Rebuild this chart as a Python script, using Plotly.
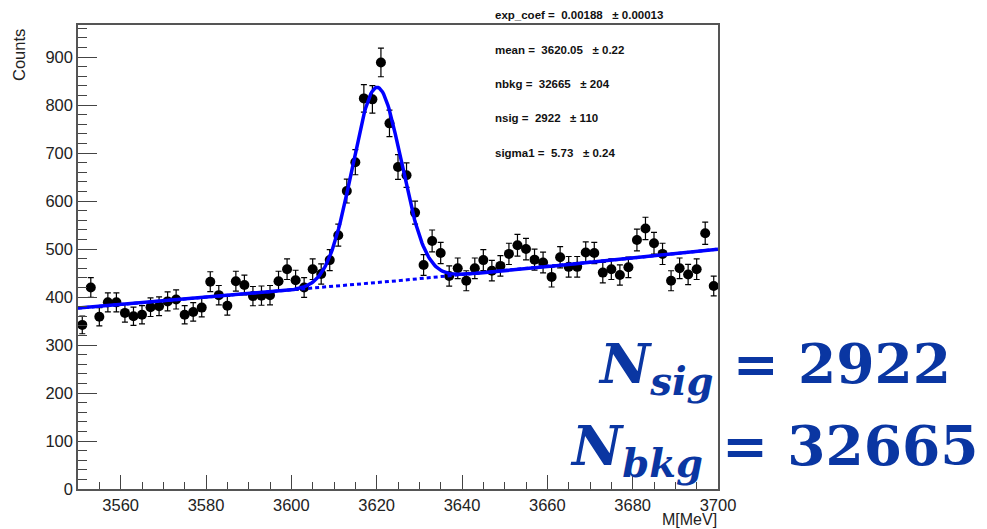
import numpy as np
import plotly.graph_objects as go

# ---- data ----
bin_centers = [3551, 3553, 3555, 3557, 3559, 3561, 3563, 3565, 3567, 3569,
               3571, 3573, 3575, 3577, 3579, 3581, 3583, 3585, 3587, 3589,
               3591, 3593, 3595, 3597, 3599, 3601, 3603, 3605, 3607, 3609,
               3611, 3613, 3615, 3617, 3619, 3621, 3623, 3625, 3627, 3629,
               3631, 3633, 3635, 3637, 3639, 3641, 3643, 3645, 3647, 3649,
               3651, 3653, 3655, 3657, 3659, 3661, 3663, 3665, 3667, 3669,
               3671, 3673, 3675, 3677, 3679, 3681, 3683, 3685, 3687, 3689,
               3691, 3693, 3695, 3697, 3699]
counts = [342, 420, 359, 389, 389, 367, 360, 363, 379, 381,
          391, 395, 363, 369, 378, 432, 404, 382, 433, 425,
          402, 403, 404, 433, 458, 435, 420, 458, 448, 477,
          529, 621, 681, 814, 812, 889, 762, 671, 654, 576,
          467, 517, 492, 444, 460, 434, 460, 477, 455, 465,
          490, 508, 500, 478, 472, 442, 483, 463, 463, 493,
          492, 451, 458, 446, 462, 519, 543, 512, 490, 434,
          460, 447, 458, 533, 423]
count_errors = [float(np.sqrt(c)) for c in counts]

# fit parameters (shown on the chart)
par_names = ["exp_coef", "mean", "nbkg", "nsig", "sigma1"]
par_values = ["0.00188", "3620.05", "32665", "2922", "5.73"]
par_errors = ["0.00013", "0.22", "204", "110", "0.24"]
exp_coef = 0.00188
mean = 3620.05
nbkg = 32665
nsig = 2922
sigma1 = 5.73
x_lo, x_hi, bin_w = 3550, 3700, 2

x_tick_vals = [3560, 3580, 3600, 3620, 3640, 3660, 3680, 3700]
y_tick_vals = [0, 100, 200, 300, 400, 500, 600, 700, 800, 900]

# ---- fit model curves (from the fit parameters) ----
xf = np.linspace(x_lo, x_hi, 600)
bkg_norm = exp_coef / (np.exp(exp_coef * x_hi) - np.exp(exp_coef * x_lo))
bkg = nbkg * bin_w * bkg_norm * np.exp(exp_coef * xf)
sig = nsig * bin_w * np.exp(-0.5 * ((xf - mean) / sigma1) ** 2) / (np.sqrt(2 * np.pi) * sigma1)
total = bkg + sig

fig = go.Figure()
fig.add_trace(go.Scatter(
    x=bin_centers, y=counts, mode="markers",
    marker=dict(color="black", size=10, symbol="circle"),
    error_y=dict(type="data", array=count_errors, color="black", thickness=1.2, width=3),
    showlegend=False, hoverinfo="skip"))
fig.add_trace(go.Scatter(
    x=xf, y=bkg, mode="lines",
    line=dict(color="#0000ff", width=3, dash="4px,3px"),
    showlegend=False, hoverinfo="skip"))
fig.add_trace(go.Scatter(
    x=xf, y=total, mode="lines",
    line=dict(color="#0000ff", width=3.5),
    showlegend=False, hoverinfo="skip"))

W, H = 987, 529
L, R, T, B = 78, 269, 25, 40
pw, ph = W - L - R, H - T - B

def px(xp):
    return (xp - L) / pw

def py(yp):
    return (H - B - yp) / ph

axis_font = dict(family="Liberation Sans, Arial, sans-serif", size=16.5, color="#222")

fig.update_layout(
    width=W, height=H,
    margin=dict(l=L, r=R, t=T, b=B),
    paper_bgcolor="white", plot_bgcolor="white",
    xaxis=dict(range=[x_lo, x_hi], tickvals=x_tick_vals, ticks="inside", ticklen=14,
               tickwidth=1.2, tickcolor="#444", showline=True, linecolor="#555",
               linewidth=1.5, mirror=True, showgrid=False, zeroline=False,
               tickfont=axis_font,
               minor=dict(dtick=5, tick0=3550, ticks="inside", ticklen=7,
                          tickwidth=1.2, tickcolor="#444", showgrid=False)),
    yaxis=dict(range=[0, 967], tickvals=y_tick_vals, ticks="inside", ticklen=19,
               tickwidth=1.2, tickcolor="#444", showline=True, linecolor="#555",
               linewidth=1.5, mirror=True, showgrid=False, zeroline=False,
               tickfont=axis_font,
               minor=dict(dtick=20, tick0=0, ticks="inside", ticklen=9,
                          tickwidth=1.2, tickcolor="#444", showgrid=False)),
)

annotations = []
# axis titles (ROOT style, right/top aligned)
annotations.append(dict(text="Counts", xref="paper", yref="paper", x=px(19), y=py(55),
                        xanchor="center", yanchor="middle", textangle=-90,
                        showarrow=False, font=axis_font))
annotations.append(dict(text="M[MeV]", xref="paper", yref="paper", x=1.0, y=py(529),
                        xanchor="right", yanchor="bottom", borderpad=0,
                        showarrow=False, font=dict(family="Liberation Sans, Arial, sans-serif",
                                                   size=16, color="#222")))

# fit parameter box text
stat_y = [15, 49.5, 84, 118.5, 153]
nb = "\u00a0"
for name, val, err, yp in zip(par_names, par_values, par_errors, stat_y):
    txt = f"{name}{nb}={nb}{nb}{val}{nb}{nb}{nb}\u00b1{nb}{err}"
    annotations.append(dict(text=txt, xref="paper", yref="paper", x=px(493), y=py(yp),
                            xanchor="left", yanchor="middle", showarrow=False,
                            font=dict(family="Liberation Sans, Arial, sans-serif",
                                      size=11.5, color="#111", weight="bold")))

# big yield text
big_color = "#0a36a2"
big_font = dict(family="DejaVu Serif, Liberation Serif, serif", size=55, color=big_color)
annotations.append(dict(text=f"<b><i>N</i></b><sub><b><i>sig</i></b></sub><b>{nb}={nb}{nsig}</b>",
                        xref="paper", yref="paper", x=px(774), y=py(367),
                        xanchor="center", yanchor="middle", showarrow=False, font=big_font))
annotations.append(dict(text=f"<b><i>N</i></b><sub><b><i>bkg</i></b></sub><b>{nb}={nb}{nbkg}</b>",
                        xref="paper", yref="paper", x=px(774), y=py(449),
                        xanchor="center", yanchor="middle", showarrow=False, font=big_font))
fig.update_layout(annotations=annotations)

fig.write_html("out.html")
